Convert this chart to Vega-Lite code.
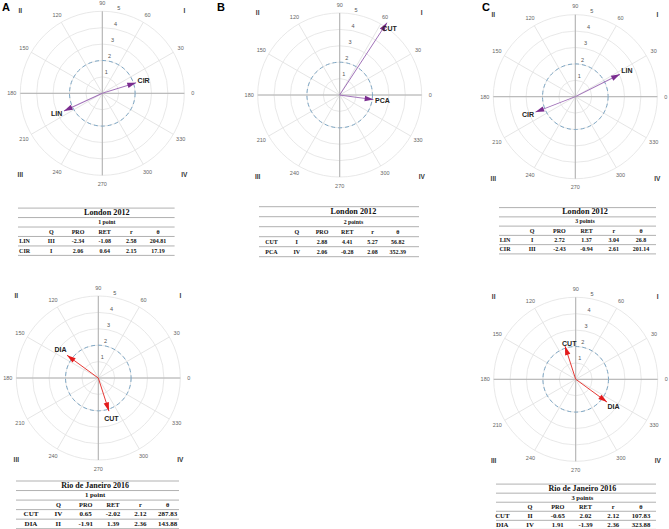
{
"$schema": "https://vega.github.io/schema/vega-lite/v6.json",
"padding": 0,
"background": "white",
"config": {"view": {"stroke": null}, "font": "Liberation Sans"},
"datasets": {
"A": [{"name":"LIN","Q":"III","PRO":-2.34,"RET":-1.08,"r":2.58,"θ":204.81},{"name":"CIR","Q":"I","PRO":2.06,"RET":0.64,"r":2.15,"θ":17.19}],
"B": [{"name":"CUT","Q":"I","PRO":2.88,"RET":4.41,"r":5.27,"θ":56.82},{"name":"PCA","Q":"IV","PRO":2.06,"RET":-0.28,"r":2.08,"θ":352.39}],
"C": [{"name":"LIN","Q":"I","PRO":2.72,"RET":1.37,"r":3.04,"θ":26.8},{"name":"CIR","Q":"III","PRO":-2.43,"RET":-0.94,"r":2.61,"θ":201.14}],
"D": [{"name":"CUT","Q":"IV","PRO":0.65,"RET":-2.02,"r":2.12,"θ":287.83},{"name":"DIA","Q":"II","PRO":-1.91,"RET":1.39,"r":2.36,"θ":143.88}],
"E": [{"name":"CUT","Q":"II","PRO":-0.65,"RET":2.02,"r":2.12,"θ":107.83},{"name":"DIA","Q":"IV","PRO":1.91,"RET":-1.39,"r":2.36,"θ":323.88}],
"tA": [{"row":"title","txt":"London 2012"},{"row":"sub","txt":"1 point"}],
"tB": [{"row":"title","txt":"London 2012"},{"row":"sub","txt":"2 points"}],
"tC": [{"row":"title","txt":"London 2012"},{"row":"sub","txt":"3 points"}],
"tD": [{"row":"title","txt":"Rio de Janeiro 2016"},{"row":"sub","txt":"1 point"}],
"tE": [{"row":"title","txt":"Rio de Janeiro 2016"},{"row":"sub","txt":"3 points"}],
"rings": [{"r":1},{"r":2},{"r":3},{"r":4},{"r":5}],
"angles": [{"a":0},{"a":30},{"a":60},{"a":90},{"a":120},{"a":150},{"a":180},{"a":210},{"a":240},{"a":270},{"a":300},{"a":330}],
"ticks": [{"t":1},{"t":2},{"t":3},{"t":4},{"t":5}],
"quads": [{"q":"I","a":45},{"q":"II","a":135},{"q":"III","a":225},{"q":"IV","a":315}],
"tlines": [{"b":"L0"},{"b":"L1"},{"b":"L2"},{"b":"L3"},{"b":"L4"},{"b":"L5"}],
"heads": [{"h":"Q","row":"head"},{"h":"PRO","row":"head"},{"h":"RET","row":"head"},{"h":"r","row":"head"},{"h":"θ","row":"head"}]
},
"spacing": 14,
"vconcat": [
{"spacing": 10, "hconcat": [
{"spacing": 13.4, "vconcat": [
{"width": 204.6, "height": 186.6,
"title": {"text": "A", "anchor": "start", "frame": "group", "offset": -13, "fontSize": 11, "fontWeight": "bold", "color": "black", "font": "Liberation Sans", "dx": 2},
"layer": [
{"data": {"name": "rings"}, "mark": {"type": "point", "shape": "circle", "filled": false, "color": "#E2E2E2", "strokeWidth": 0.8, "opacity": 1}, "encoding": {"x": {"datum": 0, "type": "quantitative", "scale": {"domain": [-6.2378, 6.2378], "nice": false, "zero": false}, "axis": null}, "y": {"datum": 0, "type": "quantitative", "scale": {"domain": [-5.689, 5.689], "nice": false, "zero": false}, "axis": null}, "size": {"field": "r", "type": "quantitative", "legend": null, "scale": {"type": "pow", "exponent": 2, "domain": [0, 5], "range": [0, 26896], "zero": true, "nice": false}}}},
{"data": {"name": "angles"}, "mark": {"type": "point", "shape": "M0,0L0,-1", "filled": false, "size": 26896, "color": "#E2E2E2", "strokeWidth": 0.8, "opacity": 1}, "encoding": {"x": {"datum": 0, "type": "quantitative", "scale": {"domain": [-6.2378, 6.2378], "nice": false, "zero": false}, "axis": null}, "y": {"datum": 0, "type": "quantitative", "scale": {"domain": [-5.689, 5.689], "nice": false, "zero": false}, "axis": null}, "angle": {"field": "a", "type": "quantitative", "legend": null, "scale": {"domain": [0, 360], "range": [90, -270]}}}},
{"data": {"name": "angles"}, "transform": [{"filter": "datum.a % 90 == 0"}], "mark": {"type": "point", "shape": "M0,0L0,-1", "filled": false, "size": 26896, "color": "#B0B0B0", "strokeWidth": 1, "opacity": 1}, "encoding": {"x": {"datum": 0, "type": "quantitative", "scale": {"domain": [-6.2378, 6.2378], "nice": false, "zero": false}, "axis": null}, "y": {"datum": 0, "type": "quantitative", "scale": {"domain": [-5.689, 5.689], "nice": false, "zero": false}, "axis": null}, "angle": {"field": "a", "type": "quantitative", "legend": null, "scale": {"domain": [0, 360], "range": [90, -270]}}}},
{"data": {"name": "rings"}, "transform": [{"filter": "datum.r == 2"}], "mark": {"type": "point", "shape": "circle", "filled": false, "color": "#7FA8C6", "strokeWidth": 1, "strokeDash": [4, 3], "opacity": 1}, "encoding": {"x": {"datum": 0, "type": "quantitative", "scale": {"domain": [-6.2378, 6.2378], "nice": false, "zero": false}, "axis": null}, "y": {"datum": 0, "type": "quantitative", "scale": {"domain": [-5.689, 5.689], "nice": false, "zero": false}, "axis": null}, "size": {"field": "r", "type": "quantitative", "legend": null, "scale": {"type": "pow", "exponent": 2, "domain": [0, 5], "range": [0, 26896], "zero": true, "nice": false}}}},
{"data": {"name": "A"}, "mark": {"type": "point", "shape": "M0,0L0,1", "filled": false, "color": "#A070B8", "strokeWidth": 0.9, "opacity": 1}, "encoding": {"x": {"field": "PRO", "type": "quantitative", "scale": {"domain": [-6.2378, 6.2378], "nice": false, "zero": false}, "axis": null}, "y": {"field": "RET", "type": "quantitative", "scale": {"domain": [-5.689, 5.689], "nice": false, "zero": false}, "axis": null}, "size": {"field": "r", "type": "quantitative", "legend": null, "scale": {"type": "pow", "exponent": 2, "domain": [0, 5], "range": [0, 26896], "zero": true, "nice": false}}, "angle": {"field": "θ", "type": "quantitative", "legend": null, "scale": {"domain": [0, 360], "range": [90, -270]}}}},
{"data": {"name": "A"}, "mark": {"type": "point", "shape": "M0,0L-0.42,1.35L0.42,1.35Z", "filled": true, "size": 170, "color": "#7B2D90", "opacity": 1}, "encoding": {"x": {"field": "PRO", "type": "quantitative", "scale": {"domain": [-6.2378, 6.2378], "nice": false, "zero": false}, "axis": null}, "y": {"field": "RET", "type": "quantitative", "scale": {"domain": [-5.689, 5.689], "nice": false, "zero": false}, "axis": null}, "angle": {"field": "θ", "type": "quantitative", "legend": null, "scale": {"domain": [0, 360], "range": [90, -270]}}}},
{"data": {"name": "A"}, "mark": {"type": "text", "radiusOffset": 8, "fontWeight": "bold", "fontSize": 7, "color": "#222"}, "encoding": {"theta": {"field": "θ", "type": "quantitative", "scale": {"domain": [0, 360], "range": [1.5707963, -4.712389]}}, "radius": {"field": "r", "type": "quantitative", "scale": {"type": "linear", "domain": [0, 5], "range": [0, 82], "zero": true, "nice": false}}, "text": {"field": "name"}}},
{"data": {"name": "angles"}, "mark": {"type": "text", "fontSize": 5.5, "color": "#666"}, "encoding": {"theta": {"field": "a", "type": "quantitative", "scale": {"domain": [0, 360], "range": [1.5707963, -4.712389]}}, "radius": {"value": 90.5}, "text": {"field": "a", "type": "nominal"}}},
{"data": {"name": "ticks"}, "mark": {"type": "text", "fontSize": 5.5, "color": "#555", "radiusOffset": 5}, "encoding": {"theta": {"value": 0.19}, "radius": {"field": "t", "type": "quantitative", "scale": {"type": "linear", "domain": [0, 5], "range": [0, 82], "zero": true, "nice": false}}, "text": {"field": "t", "type": "nominal"}}},
{"data": {"name": "quads"}, "mark": {"type": "text", "fontSize": 6.5, "fontWeight": "bold", "color": "#333"}, "encoding": {"theta": {"field": "a", "type": "quantitative", "scale": {"domain": [0, 360], "range": [1.5707963, -4.712389]}}, "radius": {"value": 116}, "text": {"field": "q"}}}
]},
{"spacing": 0, "hconcat": [
{"width": 16.7, "height": 62, "data": {"values": [{}]}, "mark": {"type": "point", "opacity": 0}},
{"width": 156.6, "height": 62, "data": {"name": "A"},
"layer": [
{"data": {"name": "tlines"}, "mark": {"type": "rule", "color": "#A8A8A8", "strokeWidth": 0.9}, "encoding": {"y": {"field": "b", "type": "nominal", "axis": null, "scale": {"type": "point", "padding": 0, "domain": ["L0","title","L1","sub","L2","head","L3","LIN","L4","CIR","L5"], "range": [6.7, 54]}}}},
{"data": {"name": "tA"}, "transform": [{"filter": "datum.row == 'title'"}], "mark": {"type": "text", "dx": 10.5, "font": "Liberation Serif", "fontWeight": "bold", "fontSize": 8.2, "color": "#111"}, "encoding": {"y": {"field": "row", "type": "nominal", "axis": null, "scale": {"type": "point", "padding": 0, "domain": ["L0","title","L1","sub","L2","head","L3","LIN","L4","CIR","L5"], "range": [6.7, 54]}}, "text": {"field": "txt"}}},
{"data": {"name": "tA"}, "transform": [{"filter": "datum.row == 'sub'"}], "mark": {"type": "text", "dx": 10.5, "font": "Liberation Serif", "fontWeight": "bold", "fontSize": 5.8, "color": "#111"}, "encoding": {"y": {"field": "row", "type": "nominal", "axis": null, "scale": {"type": "point", "padding": 0, "domain": ["L0","title","L1","sub","L2","head","L3","LIN","L4","CIR","L5"], "range": [6.7, 54]}}, "text": {"field": "txt"}}},
{"transform": [{"fold": ["name","Q","PRO","RET","r","θ"]}], "mark": {"type": "text", "font": "Liberation Serif", "fontWeight": "bold", "fontSize": 6, "color": "#111"}, "encoding": {"x": {"field": "key", "type": "nominal", "axis": null, "scale": {"type": "point", "padding": 0, "domain": ["name","Q","PRO","RET","r","θ"], "range": [6.6, 140]}}, "y": {"field": "name", "type": "nominal", "axis": null, "scale": {"type": "point", "padding": 0, "domain": ["L0","title","L1","sub","L2","head","L3","LIN","L4","CIR","L5"], "range": [6.7, 54]}}, "text": {"field": "value", "type": "nominal"}}},
{"data": {"name": "heads"}, "mark": {"type": "text", "font": "Liberation Serif", "fontWeight": "bold", "fontSize": 6, "color": "#111"}, "encoding": {"x": {"field": "h", "type": "nominal", "axis": null, "scale": {"type": "point", "padding": 0, "domain": ["name","Q","PRO","RET","r","θ"], "range": [6.6, 140]}}, "y": {"field": "row", "type": "nominal", "axis": null, "scale": {"type": "point", "padding": 0, "domain": ["L0","title","L1","sub","L2","head","L3","LIN","L4","CIR","L5"], "range": [6.7, 54]}}, "text": {"field": "h"}}}
]}
]}
]},
{"spacing": 15, "hconcat": [
{"spacing": 10, "vconcat": [
{"width": 249.4, "height": 190,
"title": {"text": "B", "anchor": "start", "frame": "group", "offset": -13, "fontSize": 11, "fontWeight": "bold", "color": "black", "font": "Liberation Sans", "dx": 2},
"layer": [
{"data": {"name": "rings"}, "mark": {"type": "point", "shape": "circle", "filled": false, "color": "#E2E2E2", "strokeWidth": 0.8, "opacity": 1}, "encoding": {"x": {"datum": 0, "type": "quantitative", "scale": {"domain": [-7.6037, 7.6037], "nice": false, "zero": false}, "axis": null}, "y": {"datum": 0, "type": "quantitative", "scale": {"domain": [-5.7927, 5.7927], "nice": false, "zero": false}, "axis": null}, "size": {"field": "r", "type": "quantitative", "legend": null, "scale": {"type": "pow", "exponent": 2, "domain": [0, 5], "range": [0, 26896], "zero": true, "nice": false}}}},
{"data": {"name": "angles"}, "mark": {"type": "point", "shape": "M0,0L0,-1", "filled": false, "size": 26896, "color": "#E2E2E2", "strokeWidth": 0.8, "opacity": 1}, "encoding": {"x": {"datum": 0, "type": "quantitative", "scale": {"domain": [-7.6037, 7.6037], "nice": false, "zero": false}, "axis": null}, "y": {"datum": 0, "type": "quantitative", "scale": {"domain": [-5.7927, 5.7927], "nice": false, "zero": false}, "axis": null}, "angle": {"field": "a", "type": "quantitative", "legend": null, "scale": {"domain": [0, 360], "range": [90, -270]}}}},
{"data": {"name": "angles"}, "transform": [{"filter": "datum.a % 90 == 0"}], "mark": {"type": "point", "shape": "M0,0L0,-1", "filled": false, "size": 26896, "color": "#B0B0B0", "strokeWidth": 1, "opacity": 1}, "encoding": {"x": {"datum": 0, "type": "quantitative", "scale": {"domain": [-7.6037, 7.6037], "nice": false, "zero": false}, "axis": null}, "y": {"datum": 0, "type": "quantitative", "scale": {"domain": [-5.7927, 5.7927], "nice": false, "zero": false}, "axis": null}, "angle": {"field": "a", "type": "quantitative", "legend": null, "scale": {"domain": [0, 360], "range": [90, -270]}}}},
{"data": {"name": "rings"}, "transform": [{"filter": "datum.r == 2"}], "mark": {"type": "point", "shape": "circle", "filled": false, "color": "#7FA8C6", "strokeWidth": 1, "strokeDash": [4, 3], "opacity": 1}, "encoding": {"x": {"datum": 0, "type": "quantitative", "scale": {"domain": [-7.6037, 7.6037], "nice": false, "zero": false}, "axis": null}, "y": {"datum": 0, "type": "quantitative", "scale": {"domain": [-5.7927, 5.7927], "nice": false, "zero": false}, "axis": null}, "size": {"field": "r", "type": "quantitative", "legend": null, "scale": {"type": "pow", "exponent": 2, "domain": [0, 5], "range": [0, 26896], "zero": true, "nice": false}}}},
{"data": {"name": "B"}, "mark": {"type": "point", "shape": "M0,0L0,1", "filled": false, "color": "#A070B8", "strokeWidth": 0.9, "opacity": 1}, "encoding": {"x": {"field": "PRO", "type": "quantitative", "scale": {"domain": [-7.6037, 7.6037], "nice": false, "zero": false}, "axis": null}, "y": {"field": "RET", "type": "quantitative", "scale": {"domain": [-5.7927, 5.7927], "nice": false, "zero": false}, "axis": null}, "size": {"field": "r", "type": "quantitative", "legend": null, "scale": {"type": "pow", "exponent": 2, "domain": [0, 5], "range": [0, 26896], "zero": true, "nice": false}}, "angle": {"field": "θ", "type": "quantitative", "legend": null, "scale": {"domain": [0, 360], "range": [90, -270]}}}},
{"data": {"name": "B"}, "mark": {"type": "point", "shape": "M0,0L-0.42,1.35L0.42,1.35Z", "filled": true, "size": 170, "color": "#7B2D90", "opacity": 1}, "encoding": {"x": {"field": "PRO", "type": "quantitative", "scale": {"domain": [-7.6037, 7.6037], "nice": false, "zero": false}, "axis": null}, "y": {"field": "RET", "type": "quantitative", "scale": {"domain": [-5.7927, 5.7927], "nice": false, "zero": false}, "axis": null}, "angle": {"field": "θ", "type": "quantitative", "legend": null, "scale": {"domain": [0, 360], "range": [90, -270]}}}},
{"data": {"name": "B"}, "transform": [{"filter": "datum.name == 'PCA'"}], "mark": {"type": "text", "radiusOffset": 9, "fontWeight": "bold", "fontSize": 7, "color": "#222"}, "encoding": {"theta": {"field": "θ", "type": "quantitative", "scale": {"domain": [0, 360], "range": [1.5707963, -4.712389]}}, "radius": {"field": "r", "type": "quantitative", "scale": {"type": "linear", "domain": [0, 5], "range": [0, 82], "zero": true, "nice": false}}, "text": {"field": "name"}}},
{"data": {"name": "B"}, "transform": [{"filter": "datum.name == 'CUT'"}], "mark": {"type": "text", "radiusOffset": -4, "thetaOffset": 0.07, "fontWeight": "bold", "fontSize": 7, "color": "#222"}, "encoding": {"theta": {"field": "θ", "type": "quantitative", "scale": {"domain": [0, 360], "range": [1.5707963, -4.712389]}}, "radius": {"field": "r", "type": "quantitative", "scale": {"type": "linear", "domain": [0, 5], "range": [0, 82], "zero": true, "nice": false}}, "text": {"field": "name"}}},
{"data": {"name": "angles"}, "mark": {"type": "text", "fontSize": 5.5, "color": "#666"}, "encoding": {"theta": {"field": "a", "type": "quantitative", "scale": {"domain": [0, 360], "range": [1.5707963, -4.712389]}}, "radius": {"value": 90.5}, "text": {"field": "a", "type": "nominal"}}},
{"data": {"name": "ticks"}, "mark": {"type": "text", "fontSize": 5.5, "color": "#555", "radiusOffset": 5}, "encoding": {"theta": {"value": 0.19}, "radius": {"field": "t", "type": "quantitative", "scale": {"type": "linear", "domain": [0, 5], "range": [0, 82], "zero": true, "nice": false}}, "text": {"field": "t", "type": "nominal"}}},
{"data": {"name": "quads"}, "mark": {"type": "text", "fontSize": 6.5, "fontWeight": "bold", "color": "#333"}, "encoding": {"theta": {"field": "a", "type": "quantitative", "scale": {"domain": [0, 360], "range": [1.5707963, -4.712389]}}, "radius": {"value": 116}, "text": {"field": "q"}}}
]},
{"spacing": 0, "hconcat": [
{"width": 42.4, "height": 62, "data": {"values": [{}]}, "mark": {"type": "point", "opacity": 0}},
{"width": 160, "height": 62, "data": {"name": "B"},
"layer": [
{"data": {"name": "tlines"}, "mark": {"type": "rule", "color": "#A8A8A8", "strokeWidth": 0.9}, "encoding": {"y": {"field": "b", "type": "nominal", "axis": null, "scale": {"type": "point", "padding": 0, "domain": ["L0","title","L1","sub","L2","head","L3","CUT","L4","PCA","L5"], "range": [6.7, 56.7]}}}},
{"data": {"name": "tB"}, "transform": [{"filter": "datum.row == 'title'"}], "mark": {"type": "text", "dx": 14.4, "font": "Liberation Serif", "fontWeight": "bold", "fontSize": 8.2, "color": "#111"}, "encoding": {"y": {"field": "row", "type": "nominal", "axis": null, "scale": {"type": "point", "padding": 0, "domain": ["L0","title","L1","sub","L2","head","L3","CUT","L4","PCA","L5"], "range": [6.7, 56.7]}}, "text": {"field": "txt"}}},
{"data": {"name": "tB"}, "transform": [{"filter": "datum.row == 'sub'"}], "mark": {"type": "text", "dx": 14.4, "font": "Liberation Serif", "fontWeight": "bold", "fontSize": 5.8, "color": "#111"}, "encoding": {"y": {"field": "row", "type": "nominal", "axis": null, "scale": {"type": "point", "padding": 0, "domain": ["L0","title","L1","sub","L2","head","L3","CUT","L4","PCA","L5"], "range": [6.7, 56.7]}}, "text": {"field": "txt"}}},
{"transform": [{"fold": ["name","Q","PRO","RET","r","θ"]}], "mark": {"type": "text", "font": "Liberation Serif", "fontWeight": "bold", "fontSize": 6, "color": "#111"}, "encoding": {"x": {"field": "key", "type": "nominal", "axis": null, "scale": {"type": "point", "padding": 0, "domain": ["name","Q","PRO","RET","r","θ"], "range": [12.5, 138.8]}}, "y": {"field": "name", "type": "nominal", "axis": null, "scale": {"type": "point", "padding": 0, "domain": ["L0","title","L1","sub","L2","head","L3","CUT","L4","PCA","L5"], "range": [6.7, 56.7]}}, "text": {"field": "value", "type": "nominal"}}},
{"data": {"name": "heads"}, "mark": {"type": "text", "font": "Liberation Serif", "fontWeight": "bold", "fontSize": 6, "color": "#111"}, "encoding": {"x": {"field": "h", "type": "nominal", "axis": null, "scale": {"type": "point", "padding": 0, "domain": ["name","Q","PRO","RET","r","θ"], "range": [12.5, 138.8]}}, "y": {"field": "row", "type": "nominal", "axis": null, "scale": {"type": "point", "padding": 0, "domain": ["L0","title","L1","sub","L2","head","L3","CUT","L4","PCA","L5"], "range": [6.7, 56.7]}}, "text": {"field": "h"}}}
]}
]}
]},
{"spacing": 6.6, "vconcat": [
{"width": 190.6, "height": 193.4,
"title": {"text": "C", "anchor": "start", "frame": "group", "offset": -13, "fontSize": 11, "fontWeight": "bold", "color": "black", "font": "Liberation Sans", "dx": 2},
"layer": [
{"data": {"name": "rings"}, "mark": {"type": "point", "shape": "circle", "filled": false, "color": "#E2E2E2", "strokeWidth": 0.8, "opacity": 1}, "encoding": {"x": {"datum": 0, "type": "quantitative", "scale": {"domain": [-5.811, 5.811], "nice": false, "zero": false}, "axis": null}, "y": {"datum": 0, "type": "quantitative", "scale": {"domain": [-5.8963, 5.8963], "nice": false, "zero": false}, "axis": null}, "size": {"field": "r", "type": "quantitative", "legend": null, "scale": {"type": "pow", "exponent": 2, "domain": [0, 5], "range": [0, 26896], "zero": true, "nice": false}}}},
{"data": {"name": "angles"}, "mark": {"type": "point", "shape": "M0,0L0,-1", "filled": false, "size": 26896, "color": "#E2E2E2", "strokeWidth": 0.8, "opacity": 1}, "encoding": {"x": {"datum": 0, "type": "quantitative", "scale": {"domain": [-5.811, 5.811], "nice": false, "zero": false}, "axis": null}, "y": {"datum": 0, "type": "quantitative", "scale": {"domain": [-5.8963, 5.8963], "nice": false, "zero": false}, "axis": null}, "angle": {"field": "a", "type": "quantitative", "legend": null, "scale": {"domain": [0, 360], "range": [90, -270]}}}},
{"data": {"name": "angles"}, "transform": [{"filter": "datum.a % 90 == 0"}], "mark": {"type": "point", "shape": "M0,0L0,-1", "filled": false, "size": 26896, "color": "#B0B0B0", "strokeWidth": 1, "opacity": 1}, "encoding": {"x": {"datum": 0, "type": "quantitative", "scale": {"domain": [-5.811, 5.811], "nice": false, "zero": false}, "axis": null}, "y": {"datum": 0, "type": "quantitative", "scale": {"domain": [-5.8963, 5.8963], "nice": false, "zero": false}, "axis": null}, "angle": {"field": "a", "type": "quantitative", "legend": null, "scale": {"domain": [0, 360], "range": [90, -270]}}}},
{"data": {"name": "rings"}, "transform": [{"filter": "datum.r == 2"}], "mark": {"type": "point", "shape": "circle", "filled": false, "color": "#7FA8C6", "strokeWidth": 1, "strokeDash": [4, 3], "opacity": 1}, "encoding": {"x": {"datum": 0, "type": "quantitative", "scale": {"domain": [-5.811, 5.811], "nice": false, "zero": false}, "axis": null}, "y": {"datum": 0, "type": "quantitative", "scale": {"domain": [-5.8963, 5.8963], "nice": false, "zero": false}, "axis": null}, "size": {"field": "r", "type": "quantitative", "legend": null, "scale": {"type": "pow", "exponent": 2, "domain": [0, 5], "range": [0, 26896], "zero": true, "nice": false}}}},
{"data": {"name": "C"}, "mark": {"type": "point", "shape": "M0,0L0,1", "filled": false, "color": "#A070B8", "strokeWidth": 0.9, "opacity": 1}, "encoding": {"x": {"field": "PRO", "type": "quantitative", "scale": {"domain": [-5.811, 5.811], "nice": false, "zero": false}, "axis": null}, "y": {"field": "RET", "type": "quantitative", "scale": {"domain": [-5.8963, 5.8963], "nice": false, "zero": false}, "axis": null}, "size": {"field": "r", "type": "quantitative", "legend": null, "scale": {"type": "pow", "exponent": 2, "domain": [0, 5], "range": [0, 26896], "zero": true, "nice": false}}, "angle": {"field": "θ", "type": "quantitative", "legend": null, "scale": {"domain": [0, 360], "range": [90, -270]}}}},
{"data": {"name": "C"}, "mark": {"type": "point", "shape": "M0,0L-0.42,1.35L0.42,1.35Z", "filled": true, "size": 170, "color": "#7B2D90", "opacity": 1}, "encoding": {"x": {"field": "PRO", "type": "quantitative", "scale": {"domain": [-5.811, 5.811], "nice": false, "zero": false}, "axis": null}, "y": {"field": "RET", "type": "quantitative", "scale": {"domain": [-5.8963, 5.8963], "nice": false, "zero": false}, "axis": null}, "angle": {"field": "θ", "type": "quantitative", "legend": null, "scale": {"domain": [0, 360], "range": [90, -270]}}}},
{"data": {"name": "C"}, "mark": {"type": "text", "radiusOffset": 8, "fontWeight": "bold", "fontSize": 7, "color": "#222"}, "encoding": {"theta": {"field": "θ", "type": "quantitative", "scale": {"domain": [0, 360], "range": [1.5707963, -4.712389]}}, "radius": {"field": "r", "type": "quantitative", "scale": {"type": "linear", "domain": [0, 5], "range": [0, 82], "zero": true, "nice": false}}, "text": {"field": "name"}}},
{"data": {"name": "angles"}, "mark": {"type": "text", "fontSize": 5.5, "color": "#666"}, "encoding": {"theta": {"field": "a", "type": "quantitative", "scale": {"domain": [0, 360], "range": [1.5707963, -4.712389]}}, "radius": {"value": 90.5}, "text": {"field": "a", "type": "nominal"}}},
{"data": {"name": "ticks"}, "mark": {"type": "text", "fontSize": 5.5, "color": "#555", "radiusOffset": 5}, "encoding": {"theta": {"value": 0.19}, "radius": {"field": "t", "type": "quantitative", "scale": {"type": "linear", "domain": [0, 5], "range": [0, 82], "zero": true, "nice": false}}, "text": {"field": "t", "type": "nominal"}}},
{"data": {"name": "quads"}, "mark": {"type": "text", "fontSize": 6.5, "fontWeight": "bold", "color": "#333"}, "encoding": {"theta": {"field": "a", "type": "quantitative", "scale": {"domain": [0, 360], "range": [1.5707963, -4.712389]}}, "radius": {"value": 116}, "text": {"field": "q"}}}
]},
{"spacing": 0, "hconcat": [
{"width": 18, "height": 62, "data": {"values": [{}]}, "mark": {"type": "point", "opacity": 0}},
{"width": 157, "height": 62, "data": {"name": "C"},
"layer": [
{"data": {"name": "tlines"}, "mark": {"type": "rule", "color": "#A8A8A8", "strokeWidth": 0.9}, "encoding": {"y": {"field": "b", "type": "nominal", "axis": null, "scale": {"type": "point", "padding": 0, "domain": ["L0","title","L1","sub","L2","head","L3","LIN","L4","CIR","L5"], "range": [7, 53.3]}}}},
{"data": {"name": "tC"}, "transform": [{"filter": "datum.row == 'title'"}], "mark": {"type": "text", "dx": 7.5, "font": "Liberation Serif", "fontWeight": "bold", "fontSize": 8.2, "color": "#111"}, "encoding": {"y": {"field": "row", "type": "nominal", "axis": null, "scale": {"type": "point", "padding": 0, "domain": ["L0","title","L1","sub","L2","head","L3","LIN","L4","CIR","L5"], "range": [7, 53.3]}}, "text": {"field": "txt"}}},
{"data": {"name": "tC"}, "transform": [{"filter": "datum.row == 'sub'"}], "mark": {"type": "text", "dx": 7.5, "font": "Liberation Serif", "fontWeight": "bold", "fontSize": 5.8, "color": "#111"}, "encoding": {"y": {"field": "row", "type": "nominal", "axis": null, "scale": {"type": "point", "padding": 0, "domain": ["L0","title","L1","sub","L2","head","L3","LIN","L4","CIR","L5"], "range": [7, 53.3]}}, "text": {"field": "txt"}}},
{"transform": [{"fold": ["name","Q","PRO","RET","r","θ"]}], "mark": {"type": "text", "font": "Liberation Serif", "fontWeight": "bold", "fontSize": 6, "color": "#111"}, "encoding": {"x": {"field": "key", "type": "nominal", "axis": null, "scale": {"type": "point", "padding": 0, "domain": ["name","Q","PRO","RET","r","θ"], "range": [6, 142]}}, "y": {"field": "name", "type": "nominal", "axis": null, "scale": {"type": "point", "padding": 0, "domain": ["L0","title","L1","sub","L2","head","L3","LIN","L4","CIR","L5"], "range": [7, 53.3]}}, "text": {"field": "value", "type": "nominal"}}},
{"data": {"name": "heads"}, "mark": {"type": "text", "font": "Liberation Serif", "fontWeight": "bold", "fontSize": 6, "color": "#111"}, "encoding": {"x": {"field": "h", "type": "nominal", "axis": null, "scale": {"type": "point", "padding": 0, "domain": ["name","Q","PRO","RET","r","θ"], "range": [6, 142]}}, "y": {"field": "row", "type": "nominal", "axis": null, "scale": {"type": "point", "padding": 0, "domain": ["L0","title","L1","sub","L2","head","L3","LIN","L4","CIR","L5"], "range": [7, 53.3]}}, "text": {"field": "h"}}}
]}
]}
]}
]}
]},
{"spacing": 283, "hconcat": [
{"spacing": 0, "vconcat": [
{"width": 196.6, "height": 200,
"layer": [
{"data": {"name": "rings"}, "mark": {"type": "point", "shape": "circle", "filled": false, "color": "#E2E2E2", "strokeWidth": 0.8, "opacity": 1}, "encoding": {"x": {"datum": 0, "type": "quantitative", "scale": {"domain": [-5.9939, 5.9939], "nice": false, "zero": false}, "axis": null}, "y": {"datum": 0, "type": "quantitative", "scale": {"domain": [-6.0976, 6.0976], "nice": false, "zero": false}, "axis": null}, "size": {"field": "r", "type": "quantitative", "legend": null, "scale": {"type": "pow", "exponent": 2, "domain": [0, 5], "range": [0, 26896], "zero": true, "nice": false}}}},
{"data": {"name": "angles"}, "mark": {"type": "point", "shape": "M0,0L0,-1", "filled": false, "size": 26896, "color": "#E2E2E2", "strokeWidth": 0.8, "opacity": 1}, "encoding": {"x": {"datum": 0, "type": "quantitative", "scale": {"domain": [-5.9939, 5.9939], "nice": false, "zero": false}, "axis": null}, "y": {"datum": 0, "type": "quantitative", "scale": {"domain": [-6.0976, 6.0976], "nice": false, "zero": false}, "axis": null}, "angle": {"field": "a", "type": "quantitative", "legend": null, "scale": {"domain": [0, 360], "range": [90, -270]}}}},
{"data": {"name": "angles"}, "transform": [{"filter": "datum.a % 90 == 0"}], "mark": {"type": "point", "shape": "M0,0L0,-1", "filled": false, "size": 26896, "color": "#B0B0B0", "strokeWidth": 1, "opacity": 1}, "encoding": {"x": {"datum": 0, "type": "quantitative", "scale": {"domain": [-5.9939, 5.9939], "nice": false, "zero": false}, "axis": null}, "y": {"datum": 0, "type": "quantitative", "scale": {"domain": [-6.0976, 6.0976], "nice": false, "zero": false}, "axis": null}, "angle": {"field": "a", "type": "quantitative", "legend": null, "scale": {"domain": [0, 360], "range": [90, -270]}}}},
{"data": {"name": "rings"}, "transform": [{"filter": "datum.r == 2"}], "mark": {"type": "point", "shape": "circle", "filled": false, "color": "#7FA8C6", "strokeWidth": 1, "strokeDash": [4, 3], "opacity": 1}, "encoding": {"x": {"datum": 0, "type": "quantitative", "scale": {"domain": [-5.9939, 5.9939], "nice": false, "zero": false}, "axis": null}, "y": {"datum": 0, "type": "quantitative", "scale": {"domain": [-6.0976, 6.0976], "nice": false, "zero": false}, "axis": null}, "size": {"field": "r", "type": "quantitative", "legend": null, "scale": {"type": "pow", "exponent": 2, "domain": [0, 5], "range": [0, 26896], "zero": true, "nice": false}}}},
{"data": {"name": "D"}, "mark": {"type": "point", "shape": "M0,0L0,1", "filled": false, "color": "#E53935", "strokeWidth": 0.9, "opacity": 1}, "encoding": {"x": {"field": "PRO", "type": "quantitative", "scale": {"domain": [-5.9939, 5.9939], "nice": false, "zero": false}, "axis": null}, "y": {"field": "RET", "type": "quantitative", "scale": {"domain": [-6.0976, 6.0976], "nice": false, "zero": false}, "axis": null}, "size": {"field": "r", "type": "quantitative", "legend": null, "scale": {"type": "pow", "exponent": 2, "domain": [0, 5], "range": [0, 26896], "zero": true, "nice": false}}, "angle": {"field": "θ", "type": "quantitative", "legend": null, "scale": {"domain": [0, 360], "range": [90, -270]}}}},
{"data": {"name": "D"}, "mark": {"type": "point", "shape": "M0,0L-0.42,1.35L0.42,1.35Z", "filled": true, "size": 170, "color": "#E31A1C", "opacity": 1}, "encoding": {"x": {"field": "PRO", "type": "quantitative", "scale": {"domain": [-5.9939, 5.9939], "nice": false, "zero": false}, "axis": null}, "y": {"field": "RET", "type": "quantitative", "scale": {"domain": [-6.0976, 6.0976], "nice": false, "zero": false}, "axis": null}, "angle": {"field": "θ", "type": "quantitative", "legend": null, "scale": {"domain": [0, 360], "range": [90, -270]}}}},
{"data": {"name": "D"}, "mark": {"type": "text", "radiusOffset": 8, "fontWeight": "bold", "fontSize": 7, "color": "#222"}, "encoding": {"theta": {"field": "θ", "type": "quantitative", "scale": {"domain": [0, 360], "range": [1.5707963, -4.712389]}}, "radius": {"field": "r", "type": "quantitative", "scale": {"type": "linear", "domain": [0, 5], "range": [0, 82], "zero": true, "nice": false}}, "text": {"field": "name"}}},
{"data": {"name": "angles"}, "mark": {"type": "text", "fontSize": 5.5, "color": "#666"}, "encoding": {"theta": {"field": "a", "type": "quantitative", "scale": {"domain": [0, 360], "range": [1.5707963, -4.712389]}}, "radius": {"value": 90.5}, "text": {"field": "a", "type": "nominal"}}},
{"data": {"name": "ticks"}, "mark": {"type": "text", "fontSize": 5.5, "color": "#555", "radiusOffset": 5}, "encoding": {"theta": {"value": 0.19}, "radius": {"field": "t", "type": "quantitative", "scale": {"type": "linear", "domain": [0, 5], "range": [0, 82], "zero": true, "nice": false}}, "text": {"field": "t", "type": "nominal"}}},
{"data": {"name": "quads"}, "mark": {"type": "text", "fontSize": 6.5, "fontWeight": "bold", "color": "#333"}, "encoding": {"theta": {"field": "a", "type": "quantitative", "scale": {"domain": [0, 360], "range": [1.5707963, -4.712389]}}, "radius": {"value": 116}, "text": {"field": "q"}}}
]},
{"spacing": 0, "hconcat": [
{"width": 15, "height": 53, "data": {"values": [{}]}, "mark": {"type": "point", "opacity": 0}},
{"width": 163, "height": 53, "data": {"name": "D"},
"layer": [
{"data": {"name": "tlines"}, "mark": {"type": "rule", "color": "#A8A8A8", "strokeWidth": 0.9}, "encoding": {"y": {"field": "b", "type": "nominal", "axis": null, "scale": {"type": "point", "padding": 0, "domain": ["L0","title","L1","sub","L2","head","L3","CUT","L4","DIA","L5"], "range": [3, 50.7]}}}},
{"data": {"name": "tD"}, "transform": [{"filter": "datum.row == 'title'"}], "mark": {"type": "text", "dx": -2.4, "font": "Liberation Serif", "fontWeight": "bold", "fontSize": 8, "color": "#111"}, "encoding": {"y": {"field": "row", "type": "nominal", "axis": null, "scale": {"type": "point", "padding": 0, "domain": ["L0","title","L1","sub","L2","head","L3","CUT","L4","DIA","L5"], "range": [3, 50.7]}}, "text": {"field": "txt"}}},
{"data": {"name": "tD"}, "transform": [{"filter": "datum.row == 'sub'"}], "mark": {"type": "text", "dx": -2.4, "font": "Liberation Serif", "fontWeight": "bold", "fontSize": 6.8, "color": "#111"}, "encoding": {"y": {"field": "row", "type": "nominal", "axis": null, "scale": {"type": "point", "padding": 0, "domain": ["L0","title","L1","sub","L2","head","L3","CUT","L4","DIA","L5"], "range": [3, 50.7]}}, "text": {"field": "txt"}}},
{"transform": [{"fold": ["name","Q","PRO","RET","r","θ"]}], "mark": {"type": "text", "font": "Liberation Serif", "fontWeight": "bold", "fontSize": 7, "color": "#111"}, "encoding": {"x": {"field": "key", "type": "nominal", "axis": null, "scale": {"type": "point", "padding": 0, "domain": ["name","Q","PRO","RET","r","θ"], "range": [15, 151.7]}}, "y": {"field": "name", "type": "nominal", "axis": null, "scale": {"type": "point", "padding": 0, "domain": ["L0","title","L1","sub","L2","head","L3","CUT","L4","DIA","L5"], "range": [3, 50.7]}}, "text": {"field": "value", "type": "nominal"}}},
{"data": {"name": "heads"}, "mark": {"type": "text", "font": "Liberation Serif", "fontWeight": "bold", "fontSize": 6.3, "color": "#111"}, "encoding": {"x": {"field": "h", "type": "nominal", "axis": null, "scale": {"type": "point", "padding": 0, "domain": ["name","Q","PRO","RET","r","θ"], "range": [15, 151.7]}}, "y": {"field": "row", "type": "nominal", "axis": null, "scale": {"type": "point", "padding": 0, "domain": ["L0","title","L1","sub","L2","head","L3","CUT","L4","DIA","L5"], "range": [3, 50.7]}}, "text": {"field": "h"}}}
]}
]}
]},
{"spacing": 0, "vconcat": [
{"width": 189.4, "height": 202.6,
"layer": [
{"data": {"name": "rings"}, "mark": {"type": "point", "shape": "circle", "filled": false, "color": "#E2E2E2", "strokeWidth": 0.8, "opacity": 1}, "encoding": {"x": {"datum": 0, "type": "quantitative", "scale": {"domain": [-5.7744, 5.7744], "nice": false, "zero": false}, "axis": null}, "y": {"datum": 0, "type": "quantitative", "scale": {"domain": [-6.1768, 6.1768], "nice": false, "zero": false}, "axis": null}, "size": {"field": "r", "type": "quantitative", "legend": null, "scale": {"type": "pow", "exponent": 2, "domain": [0, 5], "range": [0, 26896], "zero": true, "nice": false}}}},
{"data": {"name": "angles"}, "mark": {"type": "point", "shape": "M0,0L0,-1", "filled": false, "size": 26896, "color": "#E2E2E2", "strokeWidth": 0.8, "opacity": 1}, "encoding": {"x": {"datum": 0, "type": "quantitative", "scale": {"domain": [-5.7744, 5.7744], "nice": false, "zero": false}, "axis": null}, "y": {"datum": 0, "type": "quantitative", "scale": {"domain": [-6.1768, 6.1768], "nice": false, "zero": false}, "axis": null}, "angle": {"field": "a", "type": "quantitative", "legend": null, "scale": {"domain": [0, 360], "range": [90, -270]}}}},
{"data": {"name": "angles"}, "transform": [{"filter": "datum.a % 90 == 0"}], "mark": {"type": "point", "shape": "M0,0L0,-1", "filled": false, "size": 26896, "color": "#B0B0B0", "strokeWidth": 1, "opacity": 1}, "encoding": {"x": {"datum": 0, "type": "quantitative", "scale": {"domain": [-5.7744, 5.7744], "nice": false, "zero": false}, "axis": null}, "y": {"datum": 0, "type": "quantitative", "scale": {"domain": [-6.1768, 6.1768], "nice": false, "zero": false}, "axis": null}, "angle": {"field": "a", "type": "quantitative", "legend": null, "scale": {"domain": [0, 360], "range": [90, -270]}}}},
{"data": {"name": "rings"}, "transform": [{"filter": "datum.r == 2"}], "mark": {"type": "point", "shape": "circle", "filled": false, "color": "#7FA8C6", "strokeWidth": 1, "strokeDash": [4, 3], "opacity": 1}, "encoding": {"x": {"datum": 0, "type": "quantitative", "scale": {"domain": [-5.7744, 5.7744], "nice": false, "zero": false}, "axis": null}, "y": {"datum": 0, "type": "quantitative", "scale": {"domain": [-6.1768, 6.1768], "nice": false, "zero": false}, "axis": null}, "size": {"field": "r", "type": "quantitative", "legend": null, "scale": {"type": "pow", "exponent": 2, "domain": [0, 5], "range": [0, 26896], "zero": true, "nice": false}}}},
{"data": {"name": "E"}, "mark": {"type": "point", "shape": "M0,0L0,1", "filled": false, "color": "#E53935", "strokeWidth": 0.9, "opacity": 1}, "encoding": {"x": {"field": "PRO", "type": "quantitative", "scale": {"domain": [-5.7744, 5.7744], "nice": false, "zero": false}, "axis": null}, "y": {"field": "RET", "type": "quantitative", "scale": {"domain": [-6.1768, 6.1768], "nice": false, "zero": false}, "axis": null}, "size": {"field": "r", "type": "quantitative", "legend": null, "scale": {"type": "pow", "exponent": 2, "domain": [0, 5], "range": [0, 26896], "zero": true, "nice": false}}, "angle": {"field": "θ", "type": "quantitative", "legend": null, "scale": {"domain": [0, 360], "range": [90, -270]}}}},
{"data": {"name": "E"}, "mark": {"type": "point", "shape": "M0,0L-0.42,1.35L0.42,1.35Z", "filled": true, "size": 170, "color": "#E31A1C", "opacity": 1}, "encoding": {"x": {"field": "PRO", "type": "quantitative", "scale": {"domain": [-5.7744, 5.7744], "nice": false, "zero": false}, "axis": null}, "y": {"field": "RET", "type": "quantitative", "scale": {"domain": [-6.1768, 6.1768], "nice": false, "zero": false}, "axis": null}, "angle": {"field": "θ", "type": "quantitative", "legend": null, "scale": {"domain": [0, 360], "range": [90, -270]}}}},
{"data": {"name": "E"}, "transform": [{"filter": "datum.name == 'DIA'"}], "mark": {"type": "text", "radiusOffset": 8, "fontWeight": "bold", "fontSize": 7, "color": "#222"}, "encoding": {"theta": {"field": "θ", "type": "quantitative", "scale": {"domain": [0, 360], "range": [1.5707963, -4.712389]}}, "radius": {"field": "r", "type": "quantitative", "scale": {"type": "linear", "domain": [0, 5], "range": [0, 82], "zero": true, "nice": false}}, "text": {"field": "name"}}},
{"data": {"name": "E"}, "transform": [{"filter": "datum.name == 'CUT'"}], "mark": {"type": "text", "radiusOffset": 1, "thetaOffset": 0.13, "fontWeight": "bold", "fontSize": 7, "color": "#222"}, "encoding": {"theta": {"field": "θ", "type": "quantitative", "scale": {"domain": [0, 360], "range": [1.5707963, -4.712389]}}, "radius": {"field": "r", "type": "quantitative", "scale": {"type": "linear", "domain": [0, 5], "range": [0, 82], "zero": true, "nice": false}}, "text": {"field": "name"}}},
{"data": {"name": "angles"}, "mark": {"type": "text", "fontSize": 5.5, "color": "#666"}, "encoding": {"theta": {"field": "a", "type": "quantitative", "scale": {"domain": [0, 360], "range": [1.5707963, -4.712389]}}, "radius": {"value": 90.5}, "text": {"field": "a", "type": "nominal"}}},
{"data": {"name": "ticks"}, "mark": {"type": "text", "fontSize": 5.5, "color": "#555", "radiusOffset": 5}, "encoding": {"theta": {"value": 0.19}, "radius": {"field": "t", "type": "quantitative", "scale": {"type": "linear", "domain": [0, 5], "range": [0, 82], "zero": true, "nice": false}}, "text": {"field": "t", "type": "nominal"}}},
{"data": {"name": "quads"}, "mark": {"type": "text", "fontSize": 6.5, "fontWeight": "bold", "color": "#333"}, "encoding": {"theta": {"field": "a", "type": "quantitative", "scale": {"domain": [0, 360], "range": [1.5707963, -4.712389]}}, "radius": {"value": 116}, "text": {"field": "q"}}}
]},
{"spacing": 0, "hconcat": [
{"width": 13.4, "height": 50.4, "data": {"values": [{}]}, "mark": {"type": "point", "opacity": 0}},
{"width": 160, "height": 50.4, "data": {"name": "E"},
"layer": [
{"data": {"name": "tlines"}, "mark": {"type": "rule", "color": "#A8A8A8", "strokeWidth": 0.9}, "encoding": {"y": {"field": "b", "type": "nominal", "axis": null, "scale": {"type": "point", "padding": 0, "domain": ["L0","title","L1","sub","L2","head","L3","CUT","L4","DIA","L5"], "range": [3.1, 48.4]}}}},
{"data": {"name": "tE"}, "transform": [{"filter": "datum.row == 'title'"}], "mark": {"type": "text", "dx": 6.4, "font": "Liberation Serif", "fontWeight": "bold", "fontSize": 8, "color": "#111"}, "encoding": {"y": {"field": "row", "type": "nominal", "axis": null, "scale": {"type": "point", "padding": 0, "domain": ["L0","title","L1","sub","L2","head","L3","CUT","L4","DIA","L5"], "range": [3.1, 48.4]}}, "text": {"field": "txt"}}},
{"data": {"name": "tE"}, "transform": [{"filter": "datum.row == 'sub'"}], "mark": {"type": "text", "dx": 6.4, "font": "Liberation Serif", "fontWeight": "bold", "fontSize": 6.5, "color": "#111"}, "encoding": {"y": {"field": "row", "type": "nominal", "axis": null, "scale": {"type": "point", "padding": 0, "domain": ["L0","title","L1","sub","L2","head","L3","CUT","L4","DIA","L5"], "range": [3.1, 48.4]}}, "text": {"field": "txt"}}},
{"transform": [{"fold": ["name","Q","PRO","RET","r","θ"]}], "mark": {"type": "text", "font": "Liberation Serif", "fontWeight": "bold", "fontSize": 6.8, "color": "#111"}, "encoding": {"x": {"field": "key", "type": "nominal", "axis": null, "scale": {"type": "point", "padding": 0, "domain": ["name","Q","PRO","RET","r","θ"], "range": [6.3, 145]}}, "y": {"field": "name", "type": "nominal", "axis": null, "scale": {"type": "point", "padding": 0, "domain": ["L0","title","L1","sub","L2","head","L3","CUT","L4","DIA","L5"], "range": [3.1, 48.4]}}, "text": {"field": "value", "type": "nominal"}}},
{"data": {"name": "heads"}, "mark": {"type": "text", "font": "Liberation Serif", "fontWeight": "bold", "fontSize": 6.3, "color": "#111"}, "encoding": {"x": {"field": "h", "type": "nominal", "axis": null, "scale": {"type": "point", "padding": 0, "domain": ["name","Q","PRO","RET","r","θ"], "range": [6.3, 145]}}, "y": {"field": "row", "type": "nominal", "axis": null, "scale": {"type": "point", "padding": 0, "domain": ["L0","title","L1","sub","L2","head","L3","CUT","L4","DIA","L5"], "range": [3.1, 48.4]}}, "text": {"field": "h"}}}
]}
]}
]}
]}
]
}
